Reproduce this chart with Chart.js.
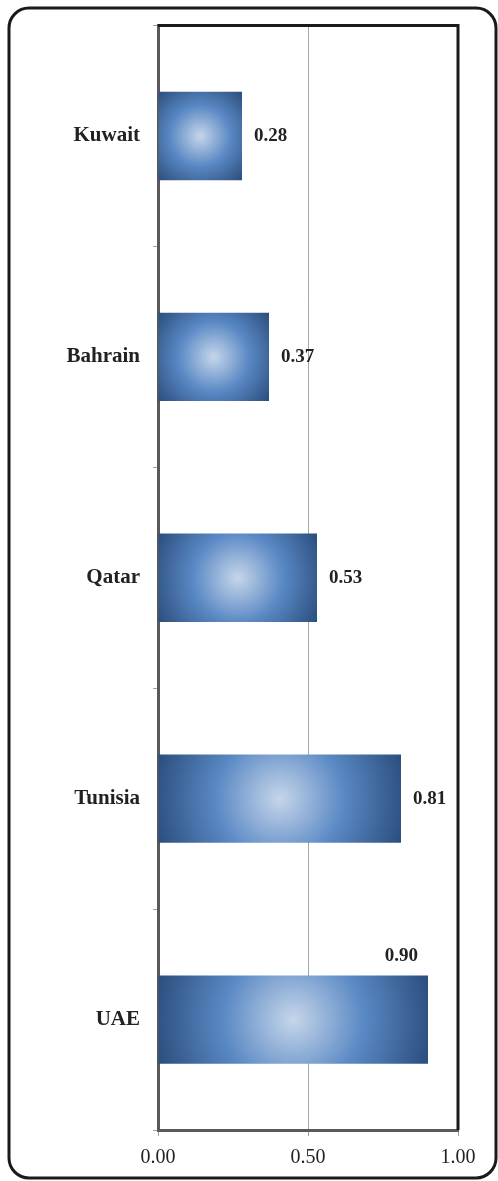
<!DOCTYPE html>
<html>
<head>
<meta charset="utf-8">
<script src="https://cdn.jsdelivr.net/npm/chart.js@4.4.1/dist/chart.umd.min.js"></script>
<style>
  html, body { margin: 0; padding: 0; background: #fff; }
  #wrap { width: 498px; height: 1181px; position: relative; }
</style>
</head>
<body>
<div id="wrap"><canvas id="barChart"></canvas></div>
<script>
const countries = ['Kuwait', 'Bahrain', 'Qatar', 'Tunisia', 'UAE'];
const scores = [0.28, 0.37, 0.53, 0.81, 0.90];
const xTicks = [0, 0.5, 1];

// radial gradient per bar, plus frame and rounded border
const decorPlugin = {
    id: 'decor',
    beforeDatasetsDraw(chart) {
        const ctx = chart.ctx;
        chart.getDatasetMeta(0).data.forEach(bar => {
            const left = Math.min(bar.base, bar.x), right = Math.max(bar.base, bar.x);
            const cx = (left + right) / 2, cy = bar.y;
            const r = Math.sqrt(Math.pow(right - left, 2) + Math.pow(bar.height, 2)) / 2;
            const g = ctx.createRadialGradient(cx, cy, 0, cx, cy, r);
            g.addColorStop(0, '#c6d6ea');
            g.addColorStop(0.5, '#5988c4');
            g.addColorStop(1, '#2b4d7c');
            // options are shared between bars, so give each its own copy
            bar.options = Object.assign({}, bar.options, { backgroundColor: g });
        });
    },
    afterDatasetsDraw(chart) {
        const ctx = chart.ctx;
        const area = chart.chartArea;
        ctx.save();
        // data labels
        ctx.font = 'bold 19px "Liberation Serif", "Times New Roman", serif';
        ctx.fillStyle = '#222';
        ctx.textBaseline = 'middle';
        chart.getDatasetMeta(0).data.forEach((bar, i) => {
            const txt = scores[i].toFixed(2);
            const w = ctx.measureText(txt).width;
            if (bar.x + 11 + w > area.right - 4) {
                ctx.textAlign = 'right';
                ctx.fillText(txt, bar.x - 10, bar.y - bar.height / 2 - 19);
            } else {
                ctx.textAlign = 'left';
                ctx.fillText(txt, bar.x + 12, bar.y);
            }
        });
        // top and right frame
        ctx.strokeStyle = '#1a1a1a';
        ctx.lineWidth = 3;
        ctx.beginPath();
        ctx.moveTo(area.left, area.top);
        ctx.lineTo(area.right, area.top);
        ctx.lineTo(area.right, area.bottom);
        ctx.stroke();
        ctx.restore();
    },
    afterDraw(chart) {
        const ctx = chart.ctx;
        ctx.save();
        ctx.strokeStyle = '#1a1a1a';
        ctx.lineWidth = 3;
        ctx.beginPath();
        ctx.roundRect(9, 8, 487, 1170, 20);
        ctx.stroke();
        ctx.restore();
    }
};

new Chart(document.getElementById('barChart'), {
    type: 'bar',
    data: {
        labels: countries,
        datasets: [{
            data: scores,
            backgroundColor: '#4f81bd',
            borderWidth: 0,
            barPercentage: 0.8,
            categoryPercentage: 0.5
        }]
    },
    options: {
        indexAxis: 'y',
        responsive: true,
        maintainAspectRatio: false,
        animation: false,
        layout: { padding: { top: 25, right: 40, left: 0, bottom: 0 } },
        scales: {
            x: {
                min: 0,
                max: 1,
                afterFit: scale => { scale.height = 51; },
                afterBuildTicks: scale => { scale.ticks = xTicks.map(v => ({ value: v })); },
                ticks: {
                    callback: v => Number(v).toFixed(2),
                    color: '#222',
                    padding: 10,
                    font: { family: '"Liberation Serif", "Times New Roman", serif', size: 20 }
                },
                grid: {
                    color: '#a6a6a6',
                    lineWidth: 1,
                    tickLength: 6,
                    tickColor: '#a0a0a0'
                },
                border: { display: true, color: '#595959', width: 3 }
            },
            y: {
                afterFit: scale => { scale.width = 158; },
                ticks: {
                    color: '#222',
                    padding: 13,
                    font: { family: '"Liberation Serif", "Times New Roman", serif', size: 21, weight: 'bold' }
                },
                grid: {
                    drawOnChartArea: false,
                    tickLength: 5,
                    tickColor: '#a0a0a0'
                },
                border: { display: true, color: '#595959', width: 3 }
            }
        },
        plugins: {
            legend: { display: false },
            tooltip: { enabled: false }
        }
    },
    plugins: [decorPlugin]
});
</script>
</body>
</html>
